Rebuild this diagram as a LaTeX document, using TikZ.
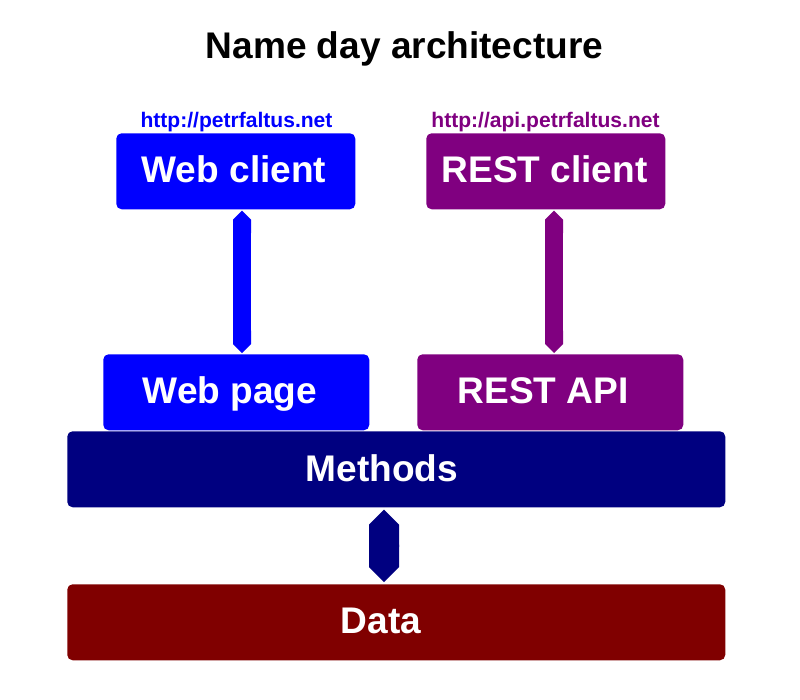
\documentclass[tikz,border=0pt]{standalone}
\usepackage{fontspec}
\setmainfont{Liberation Sans}
\usetikzlibrary{arrows.meta}
\definecolor{cblue}{HTML}{0000FF}
\definecolor{cpurple}{HTML}{800080}
\definecolor{cnavy}{HTML}{000080}
\definecolor{cmaroon}{HTML}{800000}
\tikzset{
  box/.style={draw=none, rounded corners=4pt, inner sep=0pt, anchor=north west},
  boxtext/.style={text=white, font=\fontsize{27.8pt}{30pt}\selectfont\bfseries, anchor=base, inner sep=0pt},
  urltext/.style={font=\fontsize{15.8pt}{18pt}\selectfont\bfseries, anchor=base, inner sep=0pt},
  link/.style={line width=#1, {Triangle Cap[]}-{Triangle Cap[]}},
}
\begin{document}
\begin{tikzpicture}[x=0.75pt, y=-0.75pt]
\useasboundingbox (0,0) rectangle (800,700);
% title
\node[anchor=base, inner sep=0pt, font=\fontsize{27.8pt}{30pt}\selectfont\bfseries] (title) at (404.5,58) {Name day architecture};
% urls
\node[urltext, text=cblue] (url1) at (236.5,127) {http://petrfaltus.net};
\node[urltext, text=cpurple] (url2) at (545.5,127) {http://api.petrfaltus.net};
% boxes
\node[box, fill=cblue, minimum width=239*0.75pt, minimum height=76*0.75pt] (webclient) at (116,133) {};
\node[box, fill=cpurple, minimum width=239*0.75pt, minimum height=76*0.75pt] (restclient) at (426,133) {};
\node[box, fill=cblue, minimum width=266*0.75pt, minimum height=76*0.75pt] (webpage) at (103,354) {};
\node[box, fill=cpurple, minimum width=266*0.75pt, minimum height=76*0.75pt] (restapi) at (417,354) {};
\node[box, fill=cnavy, minimum width=658*0.75pt, minimum height=76*0.75pt] (methods) at (67,431) {};
\node[box, fill=cmaroon, minimum width=658*0.75pt, minimum height=76*0.75pt] (data) at (67,584) {};
% box texts
\node[boxtext] (webclientT) at (234,182) {Web client};
\node[boxtext] (restclientT) at (544.5,182) {REST client};
\node[boxtext] (webpageT) at (230,403) {Web page};
\node[boxtext] (restapiT) at (543,403) {REST API};
\node[boxtext] (methodsT) at (382,481) {Methods};
\node[boxtext] (dataT) at (381,633) {Data};
% connectors
\coordinate (ax1) at (242,0);
\coordinate (ax2) at (554,0);
\coordinate (ax3) at (384,0);
\draw[link=13.5pt, cblue] ([yshift=-0.75pt]webclient.south -| ax1) -- ([yshift=0.75pt]webpage.north -| ax1);
\draw[link=13.5pt, cpurple] ([yshift=-0.75pt]restclient.south -| ax2) -- ([yshift=0.75pt]restapi.north -| ax2);
\draw[link=22.5pt, cnavy] ([yshift=-1.5pt]methods.south -| ax3) -- ([yshift=1.5pt]data.north -| ax3);
\end{tikzpicture}
\end{document}
